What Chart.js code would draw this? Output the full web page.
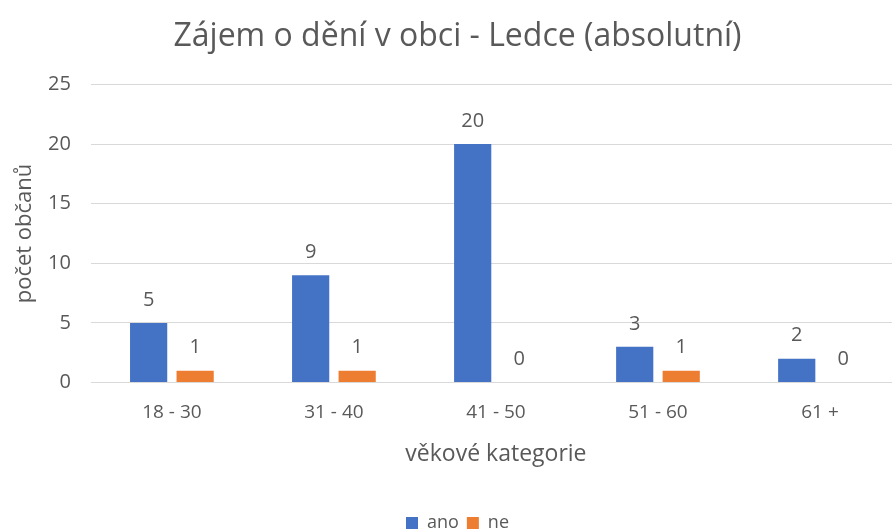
<!DOCTYPE html>
<html>
<head>
<meta charset="utf-8">
<script src="https://cdn.jsdelivr.net/npm/chart.js@4"></script>
<style>
  body { margin: 0; overflow: hidden; background: #fff; }
  #wrap { width: 910px; height: 542px; }
</style>
</head>
<body>
<div id="wrap"><canvas id="myChart"></canvas></div>
<script>
const categories = ['18 - 30', '31 - 40', '41 - 50', '51 - 60', '61 +']
const anoValues = [5, 9, 20, 3, 2]
const neValues = [1, 1, 0, 1, 0]
const yTicks = [0, 5, 10, 15, 20, 25]

const textColor = '#595959'
const fontFamily = "'Open Sans', 'Noto Sans', sans-serif"

// draws the value above each bar
const valueLabels = {
  id: 'valueLabels',
  afterDatasetsDraw(chart) {
    const ctx = chart.ctx
    ctx.save()
    ctx.fillStyle = textColor
    ctx.font = `20px ${fontFamily}`
    ctx.textAlign = 'center'
    ctx.textBaseline = 'bottom'
    chart.data.datasets.forEach((ds, i) => {
      chart.getDatasetMeta(i).data.forEach((bar, j) => {
        ctx.fillText(ds.data[j], bar.x, bar.y - 13)
      })
    })
    ctx.restore()
  }
}

new Chart(document.querySelector('#myChart'), {
  type: 'bar',
  data: {
    labels: categories,
    datasets: [
      { label: 'ano', data: anoValues, backgroundColor: '#4472C4' },
      { label: 'ne', data: neValues, backgroundColor: '#ED7D31' }
    ]
  },
  options: {
    responsive: true,
    maintainAspectRatio: false,
    animation: false,
    layout: { padding: { top: 8, left: 14, right: 9, bottom: 0 } },
    datasets: { bar: { categoryPercentage: 0.574, barPercentage: 0.8 } },
    plugins: {
      title: {
        display: true,
        text: 'Zájem o dění v obci - Ledce (absolutní)',
        color: textColor,
        font: { family: fontFamily, size: 32, weight: 'normal' },
        padding: { top: 10, bottom: 28 }
      },
      legend: {
        position: 'bottom',
        labels: {
          color: textColor,
          font: { family: fontFamily, size: 18 },
          boxWidth: 12,
          boxHeight: 12,
          padding: 8
        }
      },
      tooltip: { enabled: false }
    },
    scales: {
      x: {
        grid: { display: false },
        border: { display: false },
        ticks: { color: textColor, font: { family: fontFamily, size: 19 }, padding: 11 },
        title: {
          display: true,
          text: 'věkové kategorie',
          color: textColor,
          font: { family: fontFamily, size: 23 },
          padding: { top: 5, bottom: 38 }
        }
      },
      y: {
        min: 0,
        max: 25,
        afterBuildTicks: axis => { axis.ticks = yTicks.map(v => ({ value: v })) },
        grid: { color: '#d9d9d9', drawTicks: false },
        border: { display: false },
        ticks: { color: textColor, font: { family: fontFamily, size: 20 }, padding: 20 },
        title: {
          display: true,
          text: 'počet občanů',
          color: textColor,
          font: { family: fontFamily, size: 22, lineHeight: 1 },
          padding: { top: 0, bottom: -8 }
        }
      }
    }
  },
  plugins: [valueLabels]
})
</script>
</body>
</html>
